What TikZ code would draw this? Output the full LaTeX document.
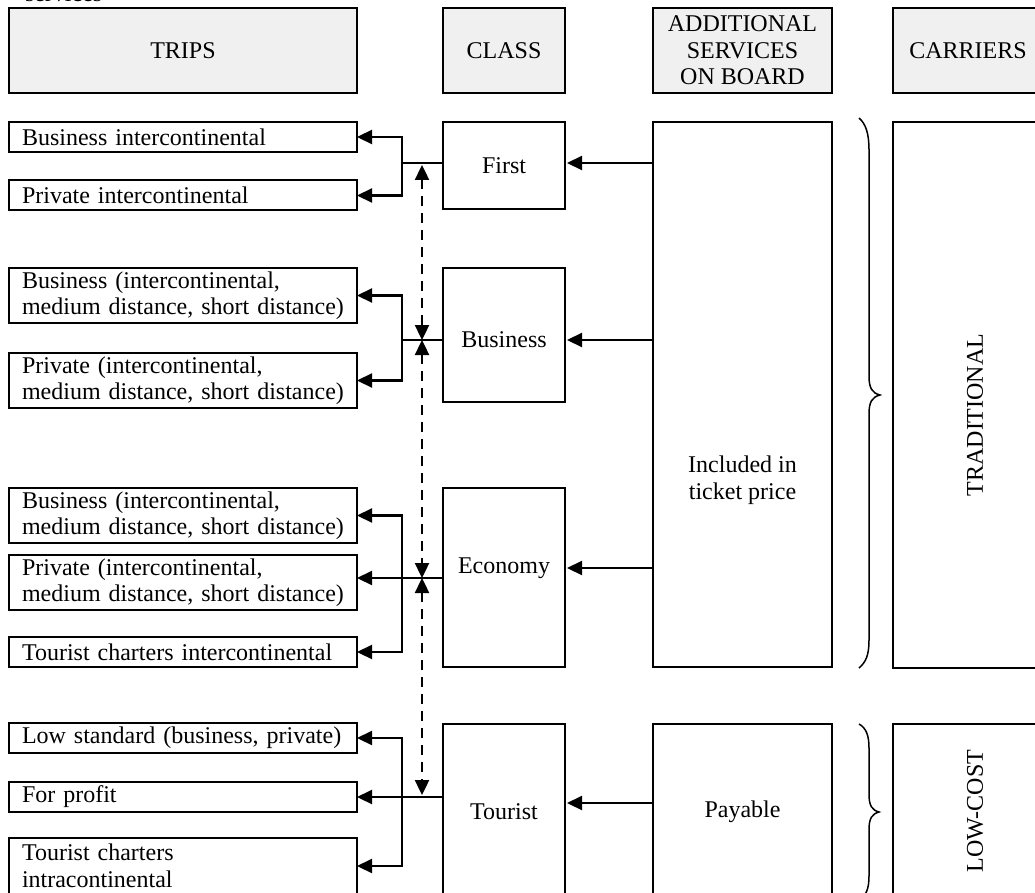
\documentclass[tikz,border=0pt]{standalone}
\usepackage{fontspec}
\setmainfont{Liberation Serif}
\usetikzlibrary{arrows.meta}
\definecolor{hdrgray}{HTML}{F0F0F0}
\begin{document}
\begin{tikzpicture}[x=1pt,y=-1pt,
  every node/.style={font=\fontsize{24}{26.5}\selectfont, inner sep=0pt, outer sep=0pt},
  hdr/.style={draw, line width=2.5pt, fill=hdrgray, align=center, minimum height=85pt},
  box/.style={draw, line width=2pt},
  trip/.style={box, minimum width=348pt, text width=322pt, align=left},
  cls/.style={box, minimum width=122pt},
  svc/.style={box, minimum width=179pt},
  car/.style={box, minimum width=150pt},
  ln/.style={line width=2.2pt},
  thinln/.style={line width=1.2pt},
  tip/.tip={Triangle[length=15pt,width=14pt]},
  arr/.style={ln, -tip},
  darr/.style={line width=2.4pt, dash pattern=on 10pt off 7pt, tip-tip},
  brace/.style={line width=1.5pt}]
\useasboundingbox (0,0) rectangle (1035,893);
\clip (0,0) rectangle (1035,893);

% cut-off title
\node[anchor=base west] (title) at (25,2) {services};

% headers
\node[hdr, minimum width=348pt] (hTrips) at (183,50.5) {TRIPS};
\node[hdr, minimum width=122pt] (hClass) at (504,50.5) {CLASS};
\node[hdr, minimum width=179pt] (hAdd) at (742.5,50.5) {ADDITIONAL\\SERVICES\\ON BOARD};
\node[hdr, minimum width=150pt] (hCarr) at (968,50.5) {CARRIERS};

% trips
\node[trip, minimum height=30pt] (t1) at (183,137) {Business intercontinental};
\node[trip, minimum height=30pt] (t2) at (183,195.5) {Private intercontinental};
\node[trip, minimum height=55pt] (t3) at (183,295.5) {Business (intercontinental,\\medium distance, short distance)};
\node[trip, minimum height=55pt] (t4) at (183,380.5) {Private (intercontinental,\\medium distance, short distance)};
\node[trip, minimum height=55pt] (t5) at (183,515.5) {Business (intercontinental,\\medium distance, short distance)};
\node[trip, minimum height=55pt] (t6) at (183,582.5) {Private (intercontinental,\\medium distance, short distance)};
\node[trip, minimum height=30pt] (t7) at (183,652) {Tourist charters intercontinental};
\node[trip, minimum height=30pt] (t8) at (183,738) {Low standard (business, private)};
\node[trip, minimum height=30pt] (t9) at (183,797) {For profit};
\node[trip, minimum height=56pt] (t10) at (183,866) {Tourist charters\\intracontinental};

% classes
\node[cls, minimum height=87pt] (first) at (504,165.5) {};
\node (firstT) at (504,165.5) {First};
\node[cls, minimum height=134pt] (business) at (504,335) {};
\node (businessT) at (504,340) {Business};
\node[cls, minimum height=179pt] (economy) at (504,577.5) {};
\node (economyT) at (504,568) {Economy};
\node[cls, minimum height=176pt] (tourist) at (504,812) {};
\node (touristT) at (504,812) {Tourist};

% services
\node[svc, minimum height=545pt] (incl) at (742.5,394.5) {};
\node[align=center] (inclT) at (742.5,480) {Included in\\ticket price};
\node[svc, minimum height=176pt] (pay) at (742.5,812) {};
\node (payT) at (742.5,812) {Payable};

% carriers
\node[car, minimum height=546pt] (trad) at (968,395) {};
\node[rotate=90] (tradT) at (975,415) {TRADITIONAL};
\node[car, minimum height=176pt] (low) at (968,812) {};
\node[rotate=90] (lowT) at (975,811) {LOW-COST};

% bus coordinates
\coordinate (b1) at (402,163);
\coordinate (b2) at (402,340);
\coordinate (b3) at (402,578);
\coordinate (b4) at (402,797);

% First group
\draw[ln, tip-tip] (t1.east) -| (b1) |- (t2.east);
\draw[thinln] (b1) -- (first.west |- b1);
% Business group
\draw[ln, tip-tip] (t3.east) -| (b2) |- (t4.east);
\draw[thinln] (b2) -- (business.west |- b2);
% Economy group
\draw[ln, tip-tip] (t5.east) -| (b3) |- (t7.east);
\draw[arr] (economy.west |- b3) -- (t6.east |- b3);
% Tourist group
\draw[ln, tip-tip] (t8.east) -| (b4) |- (t10.east);
\draw[arr] (tourist.west |- t9.east) -- (t9.east);

% dashed links
\coordinate (d1) at (422,165);
\coordinate (d2) at (422,340);
\coordinate (d3) at (422,578);
\coordinate (d4) at (422,795);
\draw[darr] (d1) -- (d2);
\draw[darr] (d2) -- (d3);
\draw[darr] (d3) -- (d4);

% services to classes
\draw[arr, shorten >=2pt] (incl.west |- b1) -- (first.east |- b1);
\draw[arr, shorten >=2pt] (incl.west |- b2) -- (business.east |- b2);
\draw[arr, shorten >=2pt] (incl.west |- economyT) -- (economy.east |- economyT);
\draw[arr, shorten >=2pt] (pay.west |- 0,803) -- (tourist.east |- 0,803);

% braces
\draw[brace] (859,118) .. controls (866,124) and (869,134) .. (869,150) -- (869,376)
  .. controls (869,388) and (872,393) .. (880,395)
  .. controls (872,397) and (869,402) .. (869,414) -- (869,640)
  .. controls (869,655) and (866,662) .. (859,668);
\draw[brace] (859,724) .. controls (866,728) and (869,735) .. (869,748) -- (869,794)
  .. controls (869,806) and (872,810) .. (879,812)
  .. controls (872,814) and (869,818) .. (869,830) -- (869,876)
  .. controls (869,889) and (866,896) .. (859,900);
\end{tikzpicture}
\end{document}
